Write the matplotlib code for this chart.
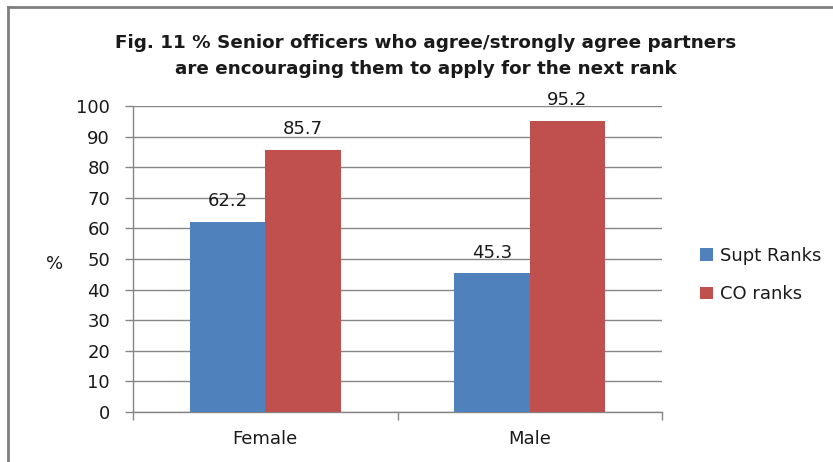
import matplotlib
matplotlib.use("Agg")
import matplotlib.pyplot as plt
from matplotlib.patches import Patch
from matplotlib.lines import Line2D
import numpy as np

categories = ["Female", "Male"]
series_names = ["Supt Ranks", "CO ranks"]
supt_ranks = [62.2, 45.3]
co_ranks = [85.7, 95.2]
y_ticks = [0, 10, 20, 30, 40, 50, 60, 70, 80, 90, 100]

title = ("Fig. 11 % Senior officers who agree/strongly agree partners\n"
         "are encouraging them to apply for the next rank")

blue = "#4F81BD"
red = "#C0504D"
grid_gray = "#868686"
text_color = "#1a1a1a"
fs = 13

plt.rcParams["font.family"] = ["DejaVu Sans"]

W, H, DPI = 833, 462, 100
fig = plt.figure(figsize=(W / DPI, H / DPI), dpi=DPI)

# chart frame (top and left edges)
fig.add_artist(Line2D([8 / W, 1.0], [1 - 7 / H, 1 - 7 / H], color="#7f7f7f", lw=2.0,
                      transform=fig.transFigure))
fig.add_artist(Line2D([8 / W, 8 / W], [0.0, 1 - 7 / H], color="#7f7f7f", lw=2.0,
                      transform=fig.transFigure))

ax = fig.add_axes([133 / W, 1 - 412 / H, (662 - 133) / W, (412 - 106) / H])

x = np.arange(len(categories))
width = 0.285
b1 = ax.bar(x - width / 2, supt_ranks, width, color=blue, label=series_names[0], zorder=3)
b2 = ax.bar(x + width / 2, co_ranks, width, color=red, label=series_names[1], zorder=3)

for bars, vals in ((b1, supt_ranks), (b2, co_ranks)):
    for rect, v in zip(bars, vals):
        ax.annotate(f"{v:.1f}", (rect.get_x() + rect.get_width() / 2, v),
                    xytext=(0, 11), textcoords="offset points",
                    ha="center", va="baseline", fontsize=fs, color=text_color)

ax.set_ylim(0, 100)
ax.set_xlim(-0.5, len(categories) - 0.5)
ax.set_yticks(y_ticks)
ax.yaxis.grid(True, color=grid_gray, lw=1.0, zorder=0)
ax.set_axisbelow(True)

ax.set_xticks(x)
ax.set_xticklabels(categories)
ax.set_xticks(np.arange(len(categories) + 1) - 0.5, minor=True)
ax.tick_params(axis="x", which="major", length=0, pad=13, labelsize=fs, labelcolor=text_color)
ax.tick_params(axis="x", which="minor", length=6, color=grid_gray, width=1)
ax.tick_params(axis="y", length=6, color=grid_gray, width=1, pad=10.5, labelsize=fs,
               labelcolor=text_color)

for side in ("top", "right"):
    ax.spines[side].set_visible(False)
for side in ("left", "bottom"):
    ax.spines[side].set_color(grid_gray)
    ax.spines[side].set_linewidth(1.0)

ax.set_ylabel("%", rotation=0, fontsize=fs, color=text_color, labelpad=0,
              ha="center", va="center")
ax.yaxis.set_label_coords((55 - 133) / (662 - 133), (412 - 264) / (412 - 106))

fig.text(426 / W, 1 - 56 / H, title, ha="center", va="center", fontsize=13.2,
         fontweight="bold", color=text_color, linespacing=1.5)

handles = [Patch(facecolor=blue), Patch(facecolor=red)]
fig.legend(handles, series_names, loc="center left",
           bbox_to_anchor=(684 / W, 1 - 275 / H), frameon=False,
           fontsize=fs, handlelength=0.7, handleheight=0.7, handletextpad=0.4,
           labelspacing=1.15, labelcolor=text_color)

fig.savefig("out.png", dpi=DPI)
